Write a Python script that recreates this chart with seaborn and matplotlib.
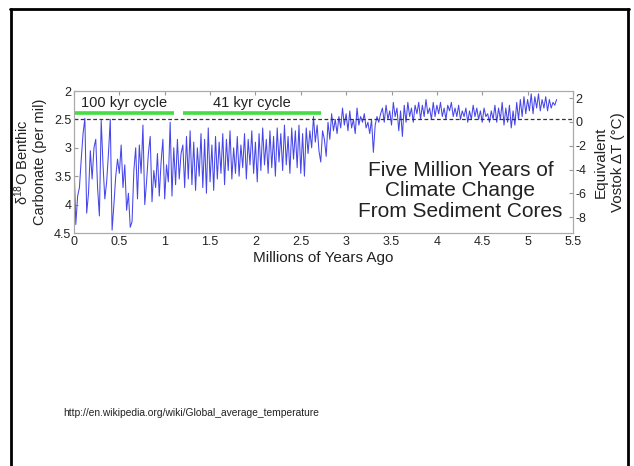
import numpy as np
import pandas as pd
import matplotlib.pyplot as plt
import seaborn as sns
from matplotlib.lines import Line2D

# benthic d18O, one value every 20 kyr starting at 0 Ma
STEP_MYR = 0.02
D18O = [
    3.25, 4.35, 3.85, 3.70, 3.20, 2.75, 2.48, 4.15, 3.80, 3.05,
    3.55, 3.00, 2.85, 3.70, 4.20, 2.52, 3.30, 3.90, 3.60, 3.10,
    2.50, 4.45, 4.00, 3.50, 3.20, 3.45, 2.95, 3.70, 3.30, 4.10,
    3.80, 4.40, 4.30, 3.40, 3.00, 3.90, 2.95, 3.45, 2.60, 4.00,
    3.60, 3.10, 2.80, 3.95, 3.40, 3.70, 3.10, 3.85, 3.25, 2.85,
    3.90, 3.30, 3.60, 2.55, 3.85, 3.00, 3.65, 2.85, 3.55, 3.10,
    2.95, 3.70, 2.80, 3.55, 2.70, 3.65, 2.90, 3.75, 3.00, 3.50,
    2.75, 3.70, 2.85, 3.80, 2.65, 3.60, 2.95, 3.75, 2.80, 3.55,
    2.90, 3.45, 2.75, 3.65, 2.85, 3.40, 2.70, 3.55, 3.00, 3.45,
    2.80, 3.50, 2.95, 3.35, 2.75, 3.55, 2.85, 3.30, 2.70, 3.45,
    2.90, 3.60, 2.75, 3.40, 2.65, 3.30, 2.85, 3.45, 2.70, 3.35,
    2.80, 3.50, 2.65, 3.25, 2.75, 3.40, 2.60, 3.30, 2.80, 3.45,
    2.65, 3.20, 2.70, 3.35, 2.60, 3.45, 2.75, 3.50, 2.65, 3.10,
    2.70, 3.00, 2.45, 2.90, 2.60, 3.05, 3.25, 2.70, 2.85, 3.15,
    2.55, 2.85, 2.40, 2.70, 2.50, 2.75, 2.45, 2.65, 2.30, 2.60,
    2.40, 2.70, 2.35, 2.65, 2.50, 2.75, 2.30, 2.60, 2.45, 2.55,
    2.40, 2.65, 2.55, 2.75, 2.50, 3.08, 2.60, 2.45, 2.55, 2.40,
    2.30, 2.55, 2.25, 2.50, 2.35, 2.60, 2.20, 2.45, 2.30, 2.70,
    2.35, 2.80, 2.25, 2.55, 2.20, 2.45, 2.30, 2.55, 2.25, 2.40,
    2.20, 2.50, 2.25, 2.45, 2.15, 2.40, 2.30, 2.50, 2.20, 2.45,
    2.25, 2.40, 2.20, 2.45, 2.30, 2.50, 2.25, 2.35, 2.20, 2.45,
    2.30, 2.45, 2.25, 2.50, 2.35, 2.45, 2.30, 2.55, 2.35, 2.50,
    2.25, 2.45, 2.30, 2.50, 2.35, 2.55, 2.30, 2.45, 2.40, 2.55,
    2.35, 2.50, 2.25, 2.55, 2.30, 2.50, 2.20, 2.60, 2.30, 2.55,
    2.25, 2.65, 2.35, 2.60, 2.20, 2.50, 2.15, 2.45, 2.10, 2.40,
    2.15, 2.35, 2.05, 2.40, 2.10, 2.30, 2.05, 2.35, 2.15, 2.30,
    2.10, 2.35, 2.15, 2.30, 2.20, 2.25, 2.15,
]

CYCLE_LABELS = ["100 kyr cycle", "41 kyr cycle"]
CYCLE_SPANS = [(0.0, 1.1), (1.2, 2.72)]
X_TICKS = [0, 0.5, 1, 1.5, 2, 2.5, 3, 3.5, 4, 4.5, 5, 5.5]
LEFT_TICKS = [2, 2.5, 3, 3.5, 4, 4.5]
RIGHT_TICKS = [-8, -6, -4, -2, 0, 2]

sns.set_style("white")
plt.rcParams["font.family"] = ["Liberation Sans", "DejaVu Sans"]
plt.rcParams["mathtext.fontset"] = "custom"
plt.rcParams["mathtext.rm"] = "Liberation Sans"
plt.rcParams["mathtext.default"] = "regular"

df = pd.DataFrame({"age": np.arange(len(D18O)) * STEP_MYR, "d18o": D18O})

fig = plt.figure(figsize=(6.34, 4.66), dpi=100)
ax = fig.add_axes([0.1167, 0.5, 0.787, 0.3047])

sns.lineplot(data=df, x="age", y="d18o", ax=ax, estimator=None, sort=False,
             color="#4646ea", lw=0.75)
ax.axhline(2.5, color="#333333", ls=(0, (3, 2)), lw=0.9)

for (x0, x1), lab in zip(CYCLE_SPANS, CYCLE_LABELS):
    ax.plot([x0, x1], [2.38, 2.38], color="#44dd44", lw=2.6, solid_capstyle="butt")
    ax.text((x0 + x1) / 2, 2.21, lab, ha="center", va="center", fontsize=10.5, color="#222222")

ax.text(4.26, 3.76, "Five Million Years of\nClimate Change\nFrom Sediment Cores",
        ha="center", va="center", fontsize=15, color="#222222", linespacing=1.12)

ax.set_xlim(0, 5.5)
ax.set_ylim(4.5, 2)
ax.set_xticks(X_TICKS)
ax.set_xticklabels([f"{t:g}" for t in X_TICKS])
ax.set_yticks(LEFT_TICKS)
ax.set_yticklabels([f"{t:g}" for t in LEFT_TICKS])
ax.tick_params(direction="in", length=3, labelsize=9, colors="#999999",
               labelcolor="#222222", top=True, pad=2)
ax.set_xlabel("Millions of Years Ago", fontsize=11, color="#222222", labelpad=2)
ax.set_ylabel("δ$^{18}$O Benthic\nCarbonate (per mil)", fontsize=10.5, color="#222222",
              labelpad=5, linespacing=1.2)
for s in ax.spines.values():
    s.set_color("#aaaaaa")
    s.set_linewidth(0.8)

ax2 = ax.twinx()
ax2.set_ylim(-9.33, 2.6)
ax2.set_yticks(RIGHT_TICKS)
ax2.set_yticklabels([f"{t:g}" for t in RIGHT_TICKS])
ax2.tick_params(direction="in", length=3, labelsize=9, colors="#999999",
                labelcolor="#222222", pad=2)
ax2.set_ylabel("Equivalent\nVostok ΔT (°C)", fontsize=11, color="#222222",
               labelpad=5, linespacing=1.3)
for s in ax2.spines.values():
    s.set_color("#aaaaaa")
    s.set_linewidth(0.8)

# slide frame
fig.add_artist(Line2D([10.7 / 634, 10.7 / 634], [0, 1 - 8.7 / 466], color="black", lw=2))
fig.add_artist(Line2D([627.5 / 634, 627.5 / 634], [0, 1 - 8.7 / 466], color="black", lw=2))
fig.add_artist(Line2D([9.7 / 634, 628.5 / 634], [1 - 8.7 / 466, 1 - 8.7 / 466], color="black", lw=2))

fig.text(63 / 634, 1 - 413 / 466, "http://en.wikipedia.org/wiki/Global_average_temperature",
         fontsize=7.4, color="#222222", va="center", ha="left")

fig.savefig("out.png", dpi=100)
